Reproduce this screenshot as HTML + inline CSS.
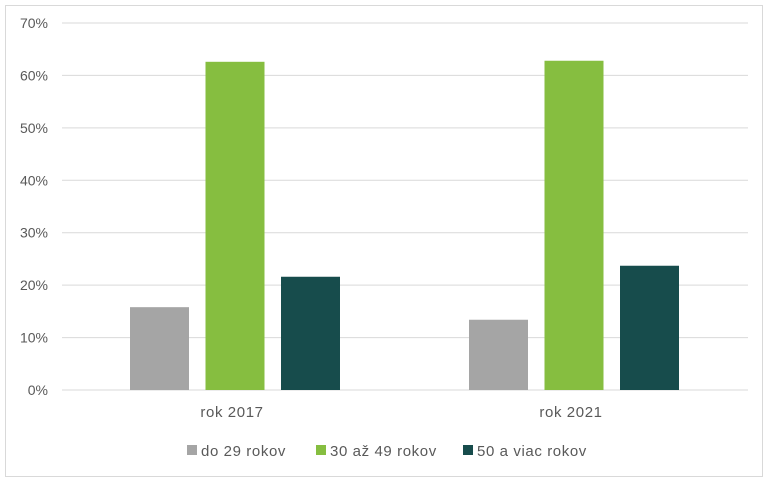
<!DOCTYPE html>
<html><head><meta charset="utf-8"><style>
body{margin:0;background:#fff;font-family:"Liberation Sans",Arial,sans-serif}
svg text{font-family:"Liberation Sans",Arial,sans-serif;fill:#595959;font-size:14px}
svg text.big{font-size:15px;letter-spacing:0.6px}
</style></head><body>
<svg id="chart" width="769" height="482">
<rect x="5.5" y="5.5" width="757" height="471" fill="#fff" stroke="#d9d9d9"/>
<g id="grid"></g><g id="bars"></g><g id="labels"></g><g id="legend"></g>
</svg>
<script>
const categories=["rok 2017","rok 2021"];
const seriesNames=["do 29 rokov","30 až 49 rokov","50 a viac rokov"];
const seriesColors=["#A5A5A5","#86BE40","#174C4C"];
const valsYoung=[15.8,13.4];
const valsMid=[62.6,62.8];
const valsOld=[21.6,23.7];
const yTicks=[0,10,20,30,40,50,60,70];
const series=[valsYoung,valsMid,valsOld];
const NS="http://www.w3.org/2000/svg";
const L=62,R=748,T=23,B=390,yMax=70;
const BL=65.5,BR=743.5;
function y(v){return B-(v/yMax)*(B-T);}
const groupW=(BR-BL)/categories.length;
function xCenter(i){return BL+groupW*(i+0.5);}
const barW=59,step=75.5;
function mk(tag,attrs,parent){const e=document.createElementNS(NS,tag);for(const k in attrs)e.setAttribute(k,attrs[k]);parent.appendChild(e);return e;}
const grid=document.getElementById('grid'),bars=document.getElementById('bars'),labels=document.getElementById('labels'),legend=document.getElementById('legend');
yTicks.forEach(t=>{
 const l=mk('line',{x1:L,x2:R,y1:y(t),y2:y(t),stroke:'#d9d9d9','stroke-width':1},grid);
 
 
 const tx=mk('text',{x:48,y:y(t)+5,'text-anchor':'end'},labels);
 tx.textContent=t+'%';
 
 
});
categories.forEach((c,i)=>{
 series.forEach((s,j)=>{
  const cx=xCenter(i)+(j-1)*step;
  const r=mk('rect',{x:cx-barW/2,y:y(s[i]),width:barW,height:B-y(s[i]),fill:seriesColors[j]},bars);
  
  
 });
 const tx=mk('text',{x:xCenter(i)-3,y:417,'text-anchor':'middle','class':'big'},labels);
 tx.textContent=c;
 
 
});
const legX=[187,316,463];
seriesNames.forEach((n,j)=>{
 const r=mk('rect',{x:legX[j],y:445,width:10,height:10,fill:seriesColors[j]},legend);
 
 
 const tx=mk('text',{x:legX[j]+14,y:456,'class':'big'},legend);
 tx.textContent=n;
 
 
});
</script>
</body></html>
